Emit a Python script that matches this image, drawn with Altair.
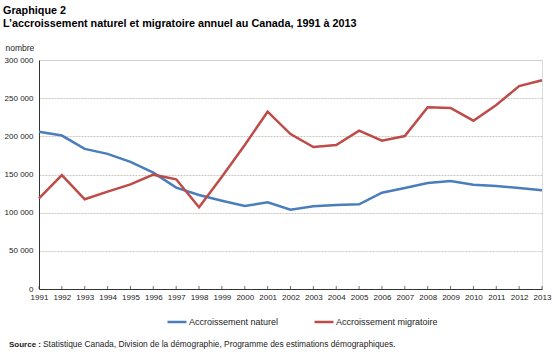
import altair as alt
import pandas as pd

years = list(range(1991, 2014))
naturel = [206000, 201000, 183500, 177000, 166500, 152500, 132800, 123100, 115700, 108800, 113500,
           104000, 108300, 110000, 110900, 126200, 132300, 138900, 141500, 136700, 134900, 132300, 129300]
migratoire = [118800, 149300, 117500, 127500, 137100, 149800, 143700, 107000, 147000, 188600, 232300,
              203000, 186000, 188600, 207400, 194300, 200400, 238000, 237100, 220500, 241000, 265900, 273400]
series_names = ["Accroissement naturel", "Accroissement migratoire"]
colors = ["#4A7EBB", "#BE4B48"]
y_ticks = [0, 50000, 100000, 150000, 200000, 250000, 300000]
title_lines = ["Graphique 2", "L\u2019accroissement naturel et migratoire annuel au Canada, 1991 à 2013"]
source_bold = "Source :"
source_text = "Statistique Canada, Division de la démographie, Programme des estimations démographiques."

rows = []
for name, vals in zip(series_names, [naturel, migratoire]):
    for y, v in zip(years, vals):
        rows.append({"annee": y, "valeur": v, "serie": name})
df = pd.DataFrame(rows)

FONT = "Liberation Sans"
W, H = 503, 229

lines = alt.Chart(df).mark_line(strokeWidth=2.5, clip=False).encode(
    x=alt.X("annee:Q",
            scale=alt.Scale(domain=[1991, 2013], nice=False, zero=False),
            axis=alt.Axis(values=years, tickCount=40, format="d", title=None, grid=False,
                          labelFontSize=8, labelFont=FONT, labelColor="#222",
                          labelPadding=4, tickSize=0, domainColor="#333",
                          labelOverlap=False, labelFlush=False, labelBound=False)),
    y=alt.Y("valeur:Q",
            scale=alt.Scale(domain=[0, 300000], nice=False),
            axis=alt.Axis(values=y_ticks, tickCount=20, title="nombre", titleAngle=0, titleAlign="left",
                          titleBaseline="middle", titleX=-34, titleY=-13, titleFontSize=8.5,
                          titleFont=FONT, titleFontWeight="normal", titleColor="#222",
                          labelExpr="replace(format(datum.value, ',d'), ',', '\u00a0')",
                          labelFontSize=8, labelFont=FONT, labelColor="#222", labelPadding=6,
                          labelOverlap=False, labelFlush=False,
                          tickSize=0, domainColor="#333", grid=True, gridColor="#cfc8c0",
                          gridDash=[2, 1], gridWidth=1)),
    color=alt.Color("serie:N", sort=series_names,
                    scale=alt.Scale(domain=series_names, range=colors),
                    legend=alt.Legend(title=None, orient="none", direction="horizontal",
                                      legendX=127, legendY=251, symbolType="stroke",
                                      symbolSize=361, symbolStrokeWidth=2.5, labelFontSize=9,
                                      labelFont=FONT, labelColor="#222", labelOffset=1,
                                      columnPadding=30)),
)

ticks = alt.Chart(pd.DataFrame({"annee": years})).mark_tick(
    orient="vertical", size=3, color="#333", thickness=1, yOffset=-1.5
).encode(x="annee:Q", y=alt.datum(0))

src1 = alt.Chart(pd.DataFrame({"t": [source_bold]})).mark_text(
    align="left", baseline="alphabetic", fontSize=8, font=FONT, fontWeight="bold", color="#222"
).encode(text="t:N", x=alt.value(-30), y=alt.value(287))
src2 = alt.Chart(pd.DataFrame({"t": [source_text]})).mark_text(
    align="left", baseline="alphabetic", fontSize=8.4, font=FONT, color="#222"
).encode(text="t:N", x=alt.value(4), y=alt.value(287))

chart = alt.layer(lines, ticks, src1, src2).properties(
    width=W, height=H,
    title=alt.TitleParams(text=title_lines, anchor="start", frame="group", dx=-36,
                          fontSize=10.8, font=FONT, fontWeight="bold", color="#000",
                          lineHeight=13, offset=14),
    autosize=alt.AutoSizeParams(type="none"),
    padding={"left": 39, "top": 60, "right": 15, "bottom": 68},
).configure_view(stroke="#777", strokeWidth=1).configure(background="white")

chart.save("out.html", embed_options={"renderer": "svg", "actions": False})
